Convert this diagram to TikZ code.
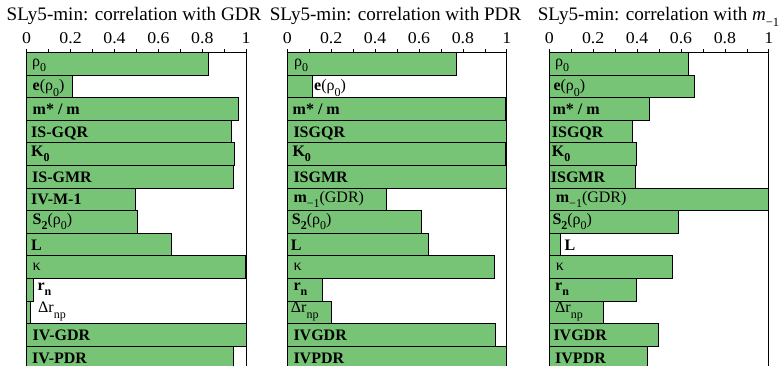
\documentclass[tikz,border=0pt]{standalone}
\usepackage{fontspec}
\setmainfont{Liberation Serif}
\newfontfamily\tickfont[FakeStretch=1.08]{Liberation Serif}
\definecolor{barfill}{RGB}{119,196,119}
\newcommand{\lsub}[1]{\raisebox{-5.5pt}{\fontsize{12}{12}\selectfont #1}}
\newcommand{\pW}{219.5}
\newcommand{\pH}{22.6}
\newcommand{\pT}{52.5}
\newcommand{\drawpanel}[3]{%
  \draw[frameline] (#2,400) -- (#2,\pT) -- (#2+\pW,\pT) -- (#2+\pW,400);
  \foreach \k in {0,...,10} {\draw[frameline, line width=0.7pt] (#2+\k*\pW/10,\pT) -- ++(0,-3.5);}
  \foreach \k/\t in {0/0,2/0.2,4/0.4,6/0.6,8/0.8,10/1} {\node[tlab] (t#1-\k) at (#2+\k*\pW/10,43.6) {\t};}
  \foreach [count=\i] \v/\o/\lx/\txt in {#3} {%
    \draw[bar] (#2,\pT+\i*\pH-\pH) rectangle ++(\v*\pW,\pH);
    \node[lab] (l#1-\i) at (\lx,\pT+\i*\pH-\pH+\o) {\txt};
  }%
}
\begin{document}
\begin{tikzpicture}[x=1pt,y=-1pt,
  bar/.style={draw=black, line width=1pt, fill=barfill},
  lab/.style={anchor=base west, inner sep=0pt, font=\fontsize{16}{16}\selectfont},
  ttl/.style={anchor=base, inner sep=0pt, font=\fontsize{19.1}{19.1}\selectfont},
  tlab/.style={anchor=base, inner sep=0pt, font=\tickfont\fontsize{16.5}{16.5}\selectfont},
  frameline/.style={draw=black, line width=0.9pt}]
\useasboundingbox (0,0) rectangle (783,366);
\clip (0,0) rectangle (783,366);

\node[ttl] (ttl1) at (134,20.5) {SLy5-min: correlation with GDR};
\node[ttl] (ttl2) at (395.5,20.5) {SLy5-min: correlation with PDR};
\node[ttl] (ttl3) at (658.5,20.5) {SLy5-min: correlation with \textit{m}\raisebox{-6pt}{\fontsize{12.5}{12.5}\selectfont −1}};

\drawpanel{a}{26.7}{
0.826/14/32/{ρ\lsub{0}},
0.209/15.5/32.5/{\textbf{e}(ρ\lsub{0})},
0.964/16.8/32.5/{\textbf{m* / m}},
0.935/16.8/31/{\textbf{IS-GQR}},
0.948/13.5/31/{\textbf{K\lsub{0}}},
0.940/16.8/32/{\textbf{IS-GMR}},
0.495/16.5/31/{\textbf{IV-M-1}},
0.506/13.5/32.5/{\textbf{S\lsub{2}}(ρ\lsub{0})},
0.659/16.8/31/{\textbf{L}},
0.997/15/32.5/{κ},
0.030/11.5/37.3/{\textbf{r\lsub{n}}},
0.018/11.5/38/{Δr\lsub{np}},
1.0/16.8/32.5/{\textbf{IV-GDR}},
0.944/16.8/32/{\textbf{IV-PDR}}}

\drawpanel{b}{287.3}{
0.771/14/294/{ρ\lsub{0}},
0.115/15.5/314/{\textbf{e}(ρ\lsub{0})},
0.995/16.8/292.5/{\textbf{m* / m}},
1.0/16.8/293.3/{\textbf{ISGQR}},
0.995/13.5/292.3/{\textbf{K\lsub{0}}},
1.0/16.8/293.3/{\textbf{ISGMR}},
0.451/14/293.3/{\textbf{m}\lsub{−1}(GDR)},
0.610/13.5/291.7/{\textbf{S\lsub{2}}(ρ\lsub{0})},
0.642/16.8/290.7/{\textbf{L}},
0.942/15/293.3/{κ},
0.159/11.5/293.3/{\textbf{r\lsub{n}}},
0.200/11.5/290.7/{Δr\lsub{np}},
0.947/16.8/293.3/{\textbf{IVGDR}},
1.0/16.8/293.3/{\textbf{IVPDR}}}

\drawpanel{c}{549.3}{
0.632/14/555/{ρ\lsub{0}},
0.663/15.5/553.3/{\textbf{e}(ρ\lsub{0})},
0.457/16.8/552.3/{\textbf{m* / m}},
0.378/16.8/551.7/{\textbf{ISGQR}},
0.395/13.5/551.7/{\textbf{K\lsub{0}}},
0.392/16.8/550.7/{\textbf{ISGMR}},
1.0/14/555.7/{\textbf{m}\lsub{−1}(GDR)},
0.588/13.5/552.3/{\textbf{S\lsub{2}}(ρ\lsub{0})},
0.049/16.8/564.3/{\textbf{L}},
0.561/15/555.7/{κ},
0.395/11.5/555/{\textbf{r\lsub{n}}},
0.246/11.5/555/{Δr\lsub{np}},
0.497/16.8/553.3/{\textbf{IVGDR}},
0.447/16.8/555/{\textbf{IVPDR}}}
\end{tikzpicture}
\end{document}
